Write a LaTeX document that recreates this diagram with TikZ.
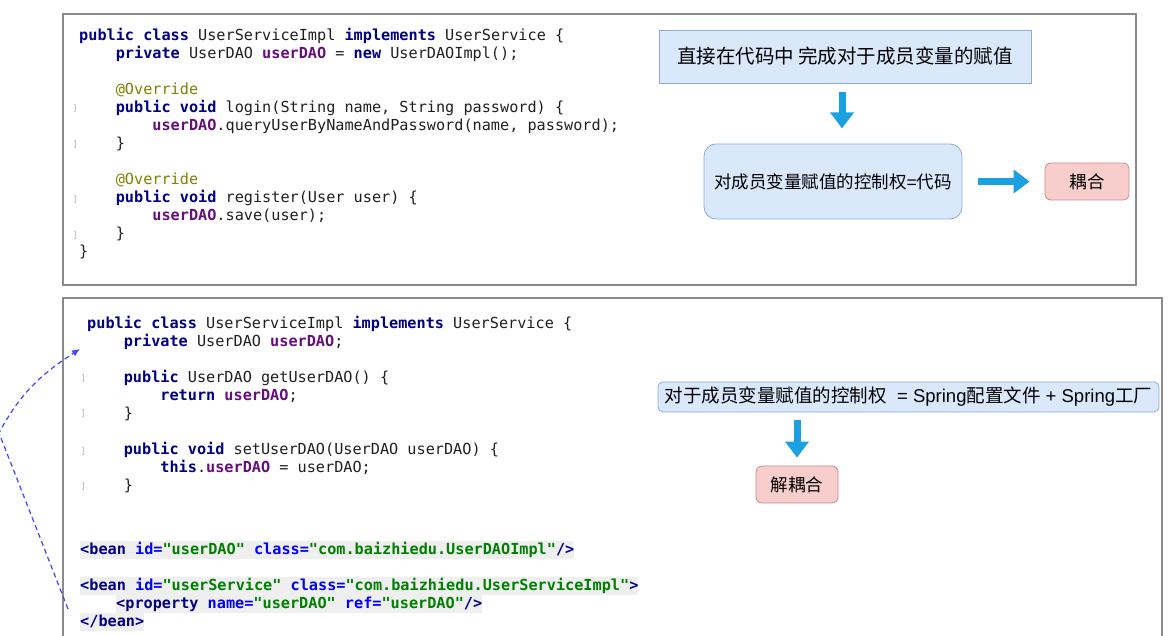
\documentclass[tikz,border=0pt]{standalone}
\usepackage{fontspec}
\setmainfont{Liberation Sans}
\newfontfamily\cjk{Noto Sans CJK SC}
\newfontfamily\codefont{DejaVu Sans Mono}
\usetikzlibrary{arrows.meta,calc}

\definecolor{kwnavy}{HTML}{000080}
\definecolor{fldpurple}{HTML}{660E7A}
\definecolor{annolive}{HTML}{808000}
\definecolor{xmlblue}{HTML}{0000FF}
\definecolor{xmlgreen}{HTML}{008000}
\definecolor{beanbg}{HTML}{EFEFEF}
\definecolor{framegray}{HTML}{8A8A8A}
\definecolor{boxblue}{HTML}{DAE8FC}
\definecolor{boxblueline}{HTML}{8FAAD6}
\definecolor{boxred}{HTML}{F8CECC}
\definecolor{boxredline}{HTML}{D08A86}
\definecolor{arrowblue}{HTML}{1BA1E2}
\definecolor{dashblue}{HTML}{4A4AF0}

% java / xml colouring
\newcommand{\kw}[1]{{\color{kwnavy}\bfseries #1}}
\newcommand{\fd}[1]{{\color{fldpurple}\bfseries #1}}
\newcommand{\an}[1]{{\color{annolive}#1}}
\newcommand{\xt}[1]{{\color{kwnavy}\bfseries #1}}
\newcommand{\xa}[1]{{\color{xmlblue}\bfseries #1}}
\newcommand{\xv}[1]{{\color{xmlgreen}\bfseries #1}}
\newcommand{\ind}{\phantom{0000}}
\newcommand{\lat}[1]{{\normalfont #1}}
\newcommand{\monospc}{\spaceskip=0pt\xspaceskip=0pt\relax}

\tikzset{
  codeblock/.style={anchor=base west, inner sep=0pt, text width=700pt, align=left,
    text=black!88, font=\codefont\fontsize{15.2}{18}\selectfont},
  beanline/.style={anchor=base west, inner xsep=0pt, inner ysep=0pt, fill=beanbg,
    text height=13.5pt, text depth=4.5pt, text=black!88,
    font=\codefont\fontsize{15.2}{18}\selectfont},
  frame/.style={draw=framegray, line width=1.2pt},
  foldmark/.style={draw=black!22, line width=0.6pt},
  bluebox/.style={draw=boxblueline, fill=boxblue, line width=0.8pt, inner sep=2pt},
  redbox/.style={draw=boxredline, fill=boxred, line width=0.8pt, rounded corners=6pt,
    inner sep=2pt, font=\cjk\fontsize{17.5}{20}\selectfont},
  bluearrow/.style={arrowblue, line width=7pt, -{Triangle[length=16pt,width=23pt]}},
  dasharrow/.style={dashblue, line width=1.25pt, dash pattern=on 5pt off 3.5pt,
    -{Latex[length=8pt,width=7pt]}}
}

\begin{document}
\begin{tikzpicture}[x=1pt, y=1pt]
\useasboundingbox (0,0) rectangle (1169,636);
\clip (0,0) rectangle (1169,636);

% frames
\draw[frame] (63,351) rectangle (1136,622);
\draw[frame] (63,-5) |- (1162,338) -- (1162,-5);

% code: direct assignment
\node[codeblock] (codeA) at (79,595) {\monospc
\kw{public class} UserServiceImpl \kw{implements} UserService \{\\
\ind\kw{private} UserDAO \fd{userDAO} = \kw{new} UserDAOImpl();\\[18pt]
\ind\an{@Override}\\
\ind\kw{public void} login(String name, String password) \{\\
\ind\ind\fd{userDAO}.queryUserByNameAndPassword(name, password);\\
\ind\}\\[18pt]
\ind\an{@Override}\\
\ind\kw{public void} register(User user) \{\\
\ind\ind\fd{userDAO}.save(user);\\
\ind\}\\
\}};

% code: setter injection
\node[codeblock] (codeB) at (87,307) {\monospc
\kw{public class} UserServiceImpl \kw{implements} UserService \{\\
\ind\kw{private} UserDAO \fd{userDAO};\\[18pt]
\ind\kw{public} UserDAO getUserDAO() \{\\
\ind\ind\kw{return} \fd{userDAO};\\
\ind\}\\[18pt]
\ind\kw{public void} setUserDAO(UserDAO userDAO) \{\\
\ind\ind\kw{this}.\fd{userDAO} = userDAO;\\
\ind\}};

% spring config
\node[beanline] (bean1) at (80,81) {\xt{<bean} \xa{id=}\xv{"userDAO"} \xa{class=}\xv{"com.baizhiedu.UserDAOImpl"}\xt{/>}};
\node[beanline] (bean2) at (80,45) {\xt{<bean} \xa{id=}\xv{"userService"} \xa{class=}\xv{"com.baizhiedu.UserServiceImpl"}\xt{>}};
\node[beanline] (prop) at (116,27) {\xt{<property} \xa{name=}\xv{"userDAO"} \xa{ref=}\xv{"userDAO"}\xt{/>}};
\node[beanline] (beanend) at (80,9) {\xt{</bean>}};

% fold gutter marks
\foreach \x/\y in {75/528, 75/492, 75/437, 75/401, 83/258, 83/223, 83/185, 83/150}
  \draw[foldmark] (\x-1.5,\y+3.5) -- (\x,\y+3.5) -- (\x,\y-3.5) -- (\x-1.5,\y-3.5);

% coupling
\node[bluebox, minimum width=372pt, minimum height=53pt,
  font=\cjk\fontsize{19.5}{22}\selectfont] (direct) at (845,579.5) {直接在代码中 完成对于成员变量的赋值};
\node[bluebox, rounded corners=12pt, minimum width=258pt, minimum height=75pt,
  font=\cjk\fontsize{17.5}{20}\selectfont] (ctrlcode) at (833,454.5) {对成员变量赋值的控制权\lat{=}代码};
\node[redbox, minimum width=84pt, minimum height=37pt] (coupled) at (1087,454.5) {耦合};

\draw[bluearrow] ([xshift=-3pt,yshift=-9pt]direct.south) -- ++(0,-36);
\draw[bluearrow] ([xshift=16pt]ctrlcode.east) -- ([xshift=-15pt]coupled.west);

% decoupling
\node[bluebox, rounded corners=5pt, minimum width=501pt, minimum height=30pt,
  font=\cjk\fontsize{18.5}{20}\selectfont] (ctrlspring) at (908.5,239)
  {对于成员变量赋值的控制权\lat{\ \ = Spring}配置文件\lat{ + Spring}工厂};
\node[redbox, minimum width=82pt, minimum height=37pt] (decoupled) at (797,151.5) {解耦合};

\draw[bluearrow] ($(ctrlspring.south -| decoupled.north)+(0,-8)$) -- ([yshift=8pt]decoupled.north);

% injection link
\coordinate (propsrc) at ([xshift=-48pt]prop.base west);
\coordinate (fieldref) at (80,287);
\draw[dasharrow] (propsrc) -- (-1,203) to[out=62,in=213] (fieldref);
\end{tikzpicture}
\end{document}
